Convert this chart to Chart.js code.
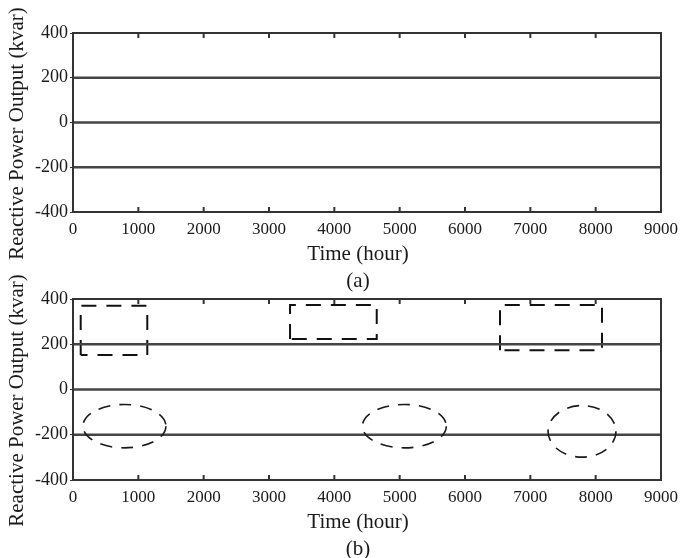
<!DOCTYPE html>
<html>
<head>
<meta charset="utf-8">
<script src="https://cdn.jsdelivr.net/npm/chart.js@4.4.1/dist/chart.umd.min.js"></script>
<style>
  body { margin: 0; background: #fff; }
  #wrap { position: relative; width: 681px; height: 558px; }
  canvas { position: absolute; left: 0; }
  #chartA { top: 0; }
  #chartB { top: 268px; }
</style>
</head>
<body>
<div id="wrap">
  <canvas id="chartA" width="681" height="300"></canvas>
  <canvas id="chartB" width="681" height="290"></canvas>
</div>
<script>
// axis ranges / ticks
const timeRange = [0, 9000];
const timeStep = 1000;
const powerRange = [-400, 400];
const powerStep = 200;

// reactive power output levels (kvar), constant over the year
const levelValues = [200, 0, -200];

// dashed boxes marked in (b)
const boxLeft = [118, 3322, 6536];
const boxRight = [1137, 4649, 8097];
const boxBottom = [152, 223, 174];
const boxTop = [370, 374, 374];

// dashed ellipses marked in (b): centre and radii in data units
const ellipseCx = [787, 5072, 7791];
const ellipseCy = [-162, -162, -185];
const ellipseRx = [635, 642, 520];
const ellipseRy = [96, 96, 114];

const xTitle = 'Time (hour)';
const yTitle = 'Reactive Power Output (kvar)';
const serif = '"Liberation Serif", "DejaVu Serif", serif';

const framePlugin = {
    id: 'frame',
    afterDatasetsDraw(chart, args, opts) {
        const { ctx, chartArea: a, scales: { x, y } } = chart;
        ctx.save();

        // ellipses
        if (opts.ellipses) {
            ctx.strokeStyle = '#1a1a1a';
            ctx.lineWidth = 1.6;
            ctx.setLineDash([12, 9]);
            for (let i = 0; i < ellipseCx.length; i++) {
                const cx = x.getPixelForValue(ellipseCx[i]);
                const cy = y.getPixelForValue(ellipseCy[i]);
                const rx = Math.abs(x.getPixelForValue(ellipseCx[i] + ellipseRx[i]) - cx);
                const ry = Math.abs(y.getPixelForValue(ellipseCy[i] + ellipseRy[i]) - cy);
                ctx.beginPath();
                ctx.ellipse(cx, cy, rx, ry, 0, 0, Math.PI * 2);
                ctx.stroke();
            }
            ctx.setLineDash([]);
        }

        // box + inward ticks
        ctx.strokeStyle = '#333';
        ctx.lineWidth = 2;
        ctx.strokeRect(a.left, a.top, a.width, a.height);
        ctx.beginPath();
        x.ticks.forEach(t => {
            const px = x.getPixelForValue(t.value);
            ctx.moveTo(px, a.top);
            ctx.lineTo(px, a.top + 5);
            ctx.moveTo(px, a.bottom);
            ctx.lineTo(px, a.bottom - 5);
        });
        ctx.stroke();

        // titles
        const mid = (a.left + a.right) / 2 - 9;
        ctx.fillStyle = '#1a1a1a';
        ctx.font = '21px ' + serif;
        ctx.textAlign = 'center';
        ctx.textBaseline = 'middle';
        ctx.fillText(xTitle, mid, a.bottom + 42);
        ctx.fillText(opts.caption, mid, a.bottom + 69);
        ctx.translate(17, (a.top + a.bottom) / 2 + 11);
        ctx.rotate(-Math.PI / 2);
        ctx.fillText(yTitle, 0, 0);
        ctx.restore();
    }
};

function makePanel(id, caption, padTop, xHeight, marks) {
    const datasets = levelValues.map(v => ({
        data: timeRange.map(t => ({ x: t, y: v })),
        borderColor: '#454545',
        borderWidth: 2.5,
        pointRadius: 0,
    }));
    if (marks) {
        for (let i = 0; i < boxLeft.length; i++) {
            datasets.push({
                data: [
                    { x: boxLeft[i], y: boxBottom[i] },
                    { x: boxLeft[i], y: boxTop[i] },
                    { x: boxRight[i], y: boxTop[i] },
                    { x: boxRight[i], y: boxBottom[i] },
                    { x: boxLeft[i], y: boxBottom[i] },
                ],
                borderColor: '#111',
                borderWidth: 2,
                borderDash: [15, 10],
                pointRadius: 0,
            });
        }
    }
    return new Chart(document.getElementById(id), {
        type: 'line',
        data: { datasets },
        options: {
            responsive: false,
            animation: false,
            layout: { padding: { top: padTop, left: 0, right: 20, bottom: 0 } },
            plugins: {
                legend: { display: false },
                tooltip: { enabled: false },
                frame: { caption: caption, ellipses: marks },
            },
            scales: {
                x: {
                    type: 'linear',
                    min: timeRange[0],
                    max: timeRange[1],
                    afterFit: s => {
                        s.height = xHeight;
                        s.paddingLeft = 0;
                        s.paddingRight = 0;
                    },
                    ticks: {
                        stepSize: timeStep,
                        padding: 7,
                        color: '#1a1a1a',
                        font: { family: serif, size: 17 },
                        callback: v => String(v),
                    },
                    grid: { drawOnChartArea: false, drawTicks: false },
                    border: { display: false },
                },
                y: {
                    min: powerRange[0],
                    max: powerRange[1],
                    afterFit: s => { s.width = 73; },
                    ticks: {
                        stepSize: powerStep,
                        padding: 2,
                        color: '#1a1a1a',
                        font: { family: serif, size: 18 },
                        callback: v => String(v),
                    },
                    grid: { drawOnChartArea: false, drawTicks: true, tickLength: 3, color: '#333' },
                    border: { display: false },
                },
            },
        },
        plugins: [framePlugin],
    });
}

makePanel('chartA', '(a)', 33, 88, false);
makePanel('chartB', '(b)', 31, 78, true);
</script>
</body>
</html>
